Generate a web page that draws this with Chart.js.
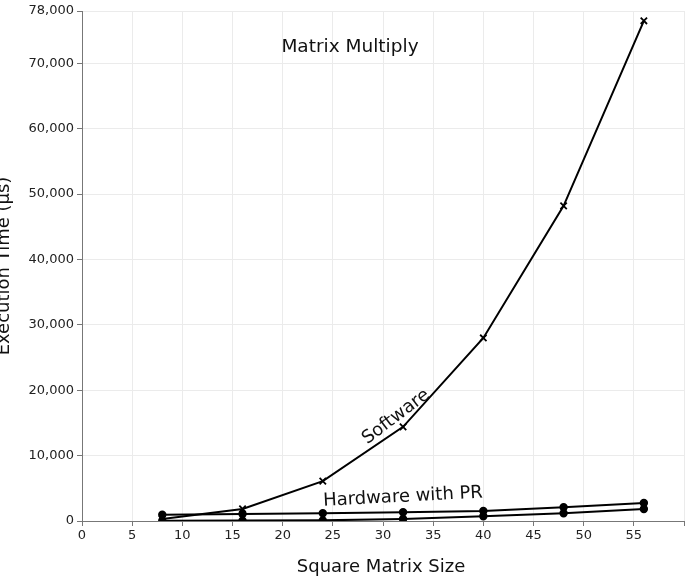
<!DOCTYPE html>
<html>
<head>
<meta charset="utf-8">
<script src="https://cdn.jsdelivr.net/npm/chart.js@4/dist/chart.umd.min.js"></script>
<style>
  html, body { margin: 0; padding: 0; background: #fff; }
  #wrap { width: 693px; height: 576px; }
</style>
</head>
<body>
<div id="wrap"><canvas id="chart" width="693" height="576"></canvas></div>
<script>
// matrix sizes on the x axis
const sizes = [8, 16, 24, 32, 40, 48, 56];
// execution times in microseconds
const software   = [300, 1850, 6100, 14400, 28000, 48200, 76500];
const hwUpper    = [960, 1070, 1180, 1330, 1530, 2100, 2750];
const hwLower    = [50, 60, 100, 300, 720, 1180, 1840];
const yTicks = [0, 10000, 20000, 30000, 40000, 50000, 60000, 70000, 78000];

const FONT = "'DejaVu Sans', sans-serif";
const pts = (ys) => sizes.map((x, i) => ({ x, y: ys[i] }));

// free text: title, series labels, axis titles
const labelsPlugin = {
  id: 'labels',
  afterDraw(chart) {
    const { ctx } = chart;
    const txt = (s, x, y, size, rot) => {
      ctx.save();
      ctx.translate(x, y);
      ctx.rotate((rot || 0) * Math.PI / 180);
      ctx.font = `${size}px ${FONT}`;
      ctx.fillStyle = '#111';
      ctx.textAlign = 'center';
      ctx.textBaseline = 'middle';
      ctx.fillText(s, 0, 0);
      ctx.restore();
    };
    txt('Matrix Multiply', 350, 47, 18.5, 0);
    txt('Software', 396, 417, 18, -37);
    txt('Hardware with PR', 403, 497, 18, -3);
    txt('Square Matrix Size', 381, 567, 18, 0);
    txt('Execution Time (µs)', 4, 266, 18, -90);
  },
};

const line = (data, style, r) => ({
  data: pts(data),
  borderColor: '#000',
  backgroundColor: '#000',
  borderWidth: 2,
  pointStyle: style,
  pointRadius: r,
  pointBorderWidth: 1.8,
  tension: 0,
});

new Chart(document.getElementById('chart'), {
  type: 'line',
  data: {
    datasets: [
      line(software, 'crossRot', 4.5),
      line(hwUpper, 'circle', 3.3),
      line(hwLower, 'circle', 3.3),
    ],
  },
  options: {
    responsive: false,
    animation: false,
    layout: { padding: { top: 11, right: 9, left: 0, bottom: 0 } },
    plugins: { legend: { display: false }, tooltip: { enabled: false } },
    scales: {
      x: {
        type: 'linear',
        min: 0, max: 60,
        afterFit(s) { s.height = 55; },
        ticks: {
          stepSize: 5,
          font: { family: FONT, size: 13 },
          color: '#222',
          padding: 2,
          maxRotation: 0,
          callback: (v) => (v === 60 ? '' : v),
        },
        grid: { color: '#ebebeb', tickColor: '#777', tickLength: 5 },
        border: { color: '#777', width: 1 },
      },
      y: {
        min: 0, max: 78000,
        afterFit(s) { s.width = 82; },
        afterBuildTicks(s) { s.ticks = yTicks.map((v) => ({ value: v })); },
        ticks: {
          font: { family: FONT, size: 13 },
          color: '#222',
          padding: 3,
          callback: (v) => v.toLocaleString('en-US'),
        },
        grid: { color: '#ebebeb', tickColor: '#777', tickLength: 5 },
        border: { color: '#777', width: 1 },
      },
    },
  },
  plugins: [labelsPlugin],
});
</script>
</body>
</html>
